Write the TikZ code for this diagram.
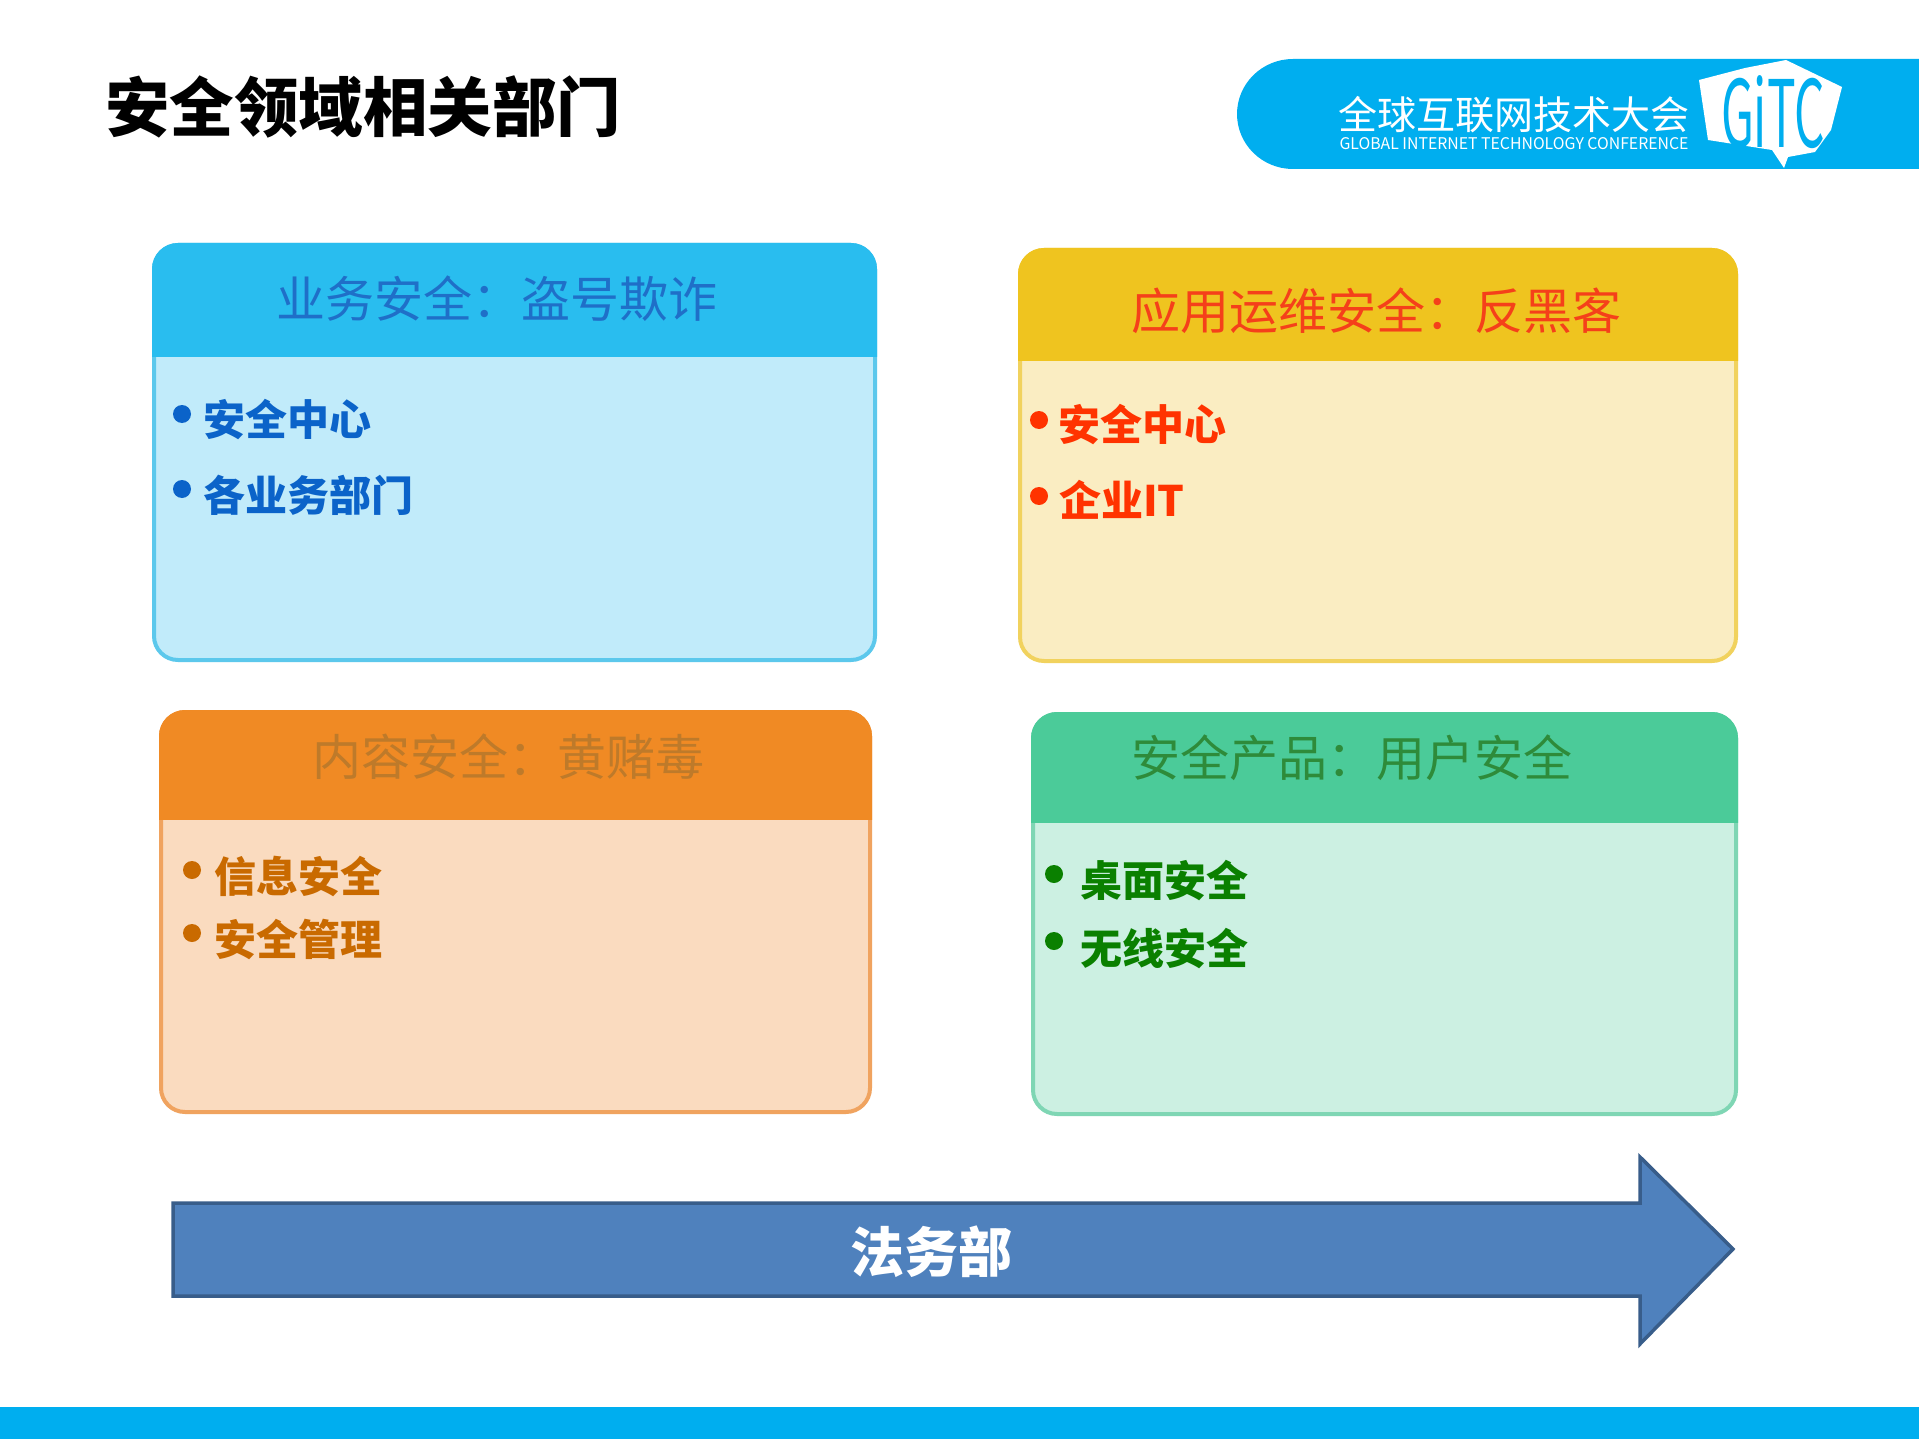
\documentclass[tikz,border=0pt]{standalone}
\usepackage{fontspec}
\setmainfont{Noto Sans CJK SC}
\usetikzlibrary{calc}
\definecolor{cyanbar}{HTML}{00AEEF}
\definecolor{hA}{HTML}{29BDEF}\definecolor{bA}{HTML}{C1EBFA}\definecolor{eA}{HTML}{5CC8EC}\definecolor{tA}{HTML}{1F6FC8}\definecolor{iA}{HTML}{0B63C9}
\definecolor{hB}{HTML}{EFC41F}\definecolor{bB}{HTML}{FAEDC2}\definecolor{eB}{HTML}{F1D25E}\definecolor{tB}{HTML}{F5401A}\definecolor{iB}{HTML}{FF3300}
\definecolor{hC}{HTML}{F08A24}\definecolor{bC}{HTML}{FADBBF}\definecolor{eC}{HTML}{F0A35F}\definecolor{tC}{HTML}{BE7A2A}\definecolor{iC}{HTML}{C96A00}
\definecolor{hD}{HTML}{4BCB99}\definecolor{bD}{HTML}{CCF0E2}\definecolor{eD}{HTML}{7FD6B4}\definecolor{tD}{HTML}{2E8B3A}\definecolor{iD}{HTML}{0A8000}
\definecolor{arrowfill}{HTML}{4F81BD}\definecolor{arrowedge}{HTML}{385D8A}
\newcommand{\fs}[1]{\fontsize{#1}{#1}\selectfont}
\newcommand{\cardbox}[8]{% x1 y1 x2 y2 ybar header body edge
  \draw[#8,fill=#7,line width=4pt,rounded corners=24pt] (#1,#2) rectangle (#3,#4);
  \begin{scope}
    \clip ($(#1,#2)+(-5,-5)$) rectangle ($(#3,#5)+(5,0)$);
    \draw[#6,fill=#6,line width=4pt,rounded corners=24pt] (#1,#2) rectangle (#3,#4);
  \end{scope}
}
\tikzset{
  cardtitle/.style={inner sep=0pt,anchor=center,font=\fs{49}},
  item/.style={inner sep=0pt,anchor=west,font=\fs{42}\bfseries},
  dot/.style={circle,inner sep=0pt,minimum size=18pt},
}
\begin{document}
\begin{tikzpicture}[x=1pt,y=-1pt]
\useasboundingbox (0,0) rectangle (1919,1439);
\fill[white] (0,0) rectangle (1919,1439);
% bottom band
\fill[cyanbar] (0,1407) rectangle (1919,1439);
% title
\node[inner sep=0pt,anchor=center,font=\fs{64.5}\bfseries] (pagetitle) at (363,107) {安全领域相关部门};
% logo band
\fill[cyanbar] (1919,59) -- (1293,59) arc[start angle=270,end angle=90,x radius=56,y radius=55] -- (1919,169) -- cycle;
\node[inner sep=0pt,text=white,font=\fs{39}] (logocn) at (1514,115) {全球互联网技术大会};
\node[inner sep=0pt,text=white,font=\fs{14}] (logoen) at (1514,144) {\resizebox{349pt}{12pt}{GLOBAL INTERNET TECHNOLOGY CONFERENCE}};
\fill[white] (1699,80) -- (1745,68) -- (1786,60) -- (1842,87) -- (1831,130) -- (1815,152) -- (1788,157) -- (1784,168) -- (1772,150) -- (1708,140) -- cycle;
\node[inner sep=0pt,text=cyanbar,font=\fs{78}] (logomark) at (1773,112) {\resizebox{104pt}{72pt}{GiTC}};
% cards
\cardbox{154}{245}{875}{660}{356}{hA}{bA}{eA}
\node[cardtitle,text=tA] (ta) at (497,299) {业务安全：盗号欺诈};
\node[dot,fill=iA] (da1) at (182,414) {};
\node[item,text=iA] (ia1) at (203,420) {安全中心};
\node[dot,fill=iA] (da2) at (182,489) {};
\node[item,text=iA] (ia2) at (203,495) {各业务部门};
\cardbox{1020}{250}{1736}{661}{360}{hB}{bB}{eB}
\node[cardtitle,text=tB] (tb) at (1376,311) {应用运维安全：反黑客};
\node[dot,fill=iB] (db1) at (1039,420) {};
\node[item,text=iB] (ib1) at (1058,425) {安全中心};
\node[dot,fill=iB] (db2) at (1039,496) {};
\node[item,text=iB] (ib2) at (1059,500) {企业IT};
\cardbox{161}{712}{870}{1112}{819}{hC}{bC}{eC}
\node[cardtitle,text=tC] (tc) at (508,757) {内容安全：黄赌毒};
\node[dot,fill=iC] (dc1) at (192,870) {};
\node[item,text=iC] (ic1) at (214,876) {信息安全};
\node[dot,fill=iC] (dc2) at (192,933) {};
\node[item,text=iC] (ic2) at (214,939) {安全管理};
\cardbox{1033}{714}{1736}{1114}{822}{hD}{bD}{eD}
\node[cardtitle,text=tD] (td) at (1352,758) {安全产品：用户安全};
\node[dot,fill=iD] (dd1) at (1054,874) {};
\node[item,text=iD] (id1) at (1080,881) {桌面安全};
\node[dot,fill=iD] (dd2) at (1054,941) {};
\node[item,text=iD] (id2) at (1080,949) {无线安全};
% arrow
\draw[fill=arrowfill,draw=arrowedge,line width=3.5pt,miter limit=10] (173,1203) -- (1640,1203) -- (1640,1157) -- (1733,1249) -- (1640,1344) -- (1640,1296) -- (173,1296) -- cycle;
\node[inner sep=0pt,text=white,font=\fs{54}\bfseries] (legal) at (931,1252) {法务部};
\end{tikzpicture}
\end{document}
